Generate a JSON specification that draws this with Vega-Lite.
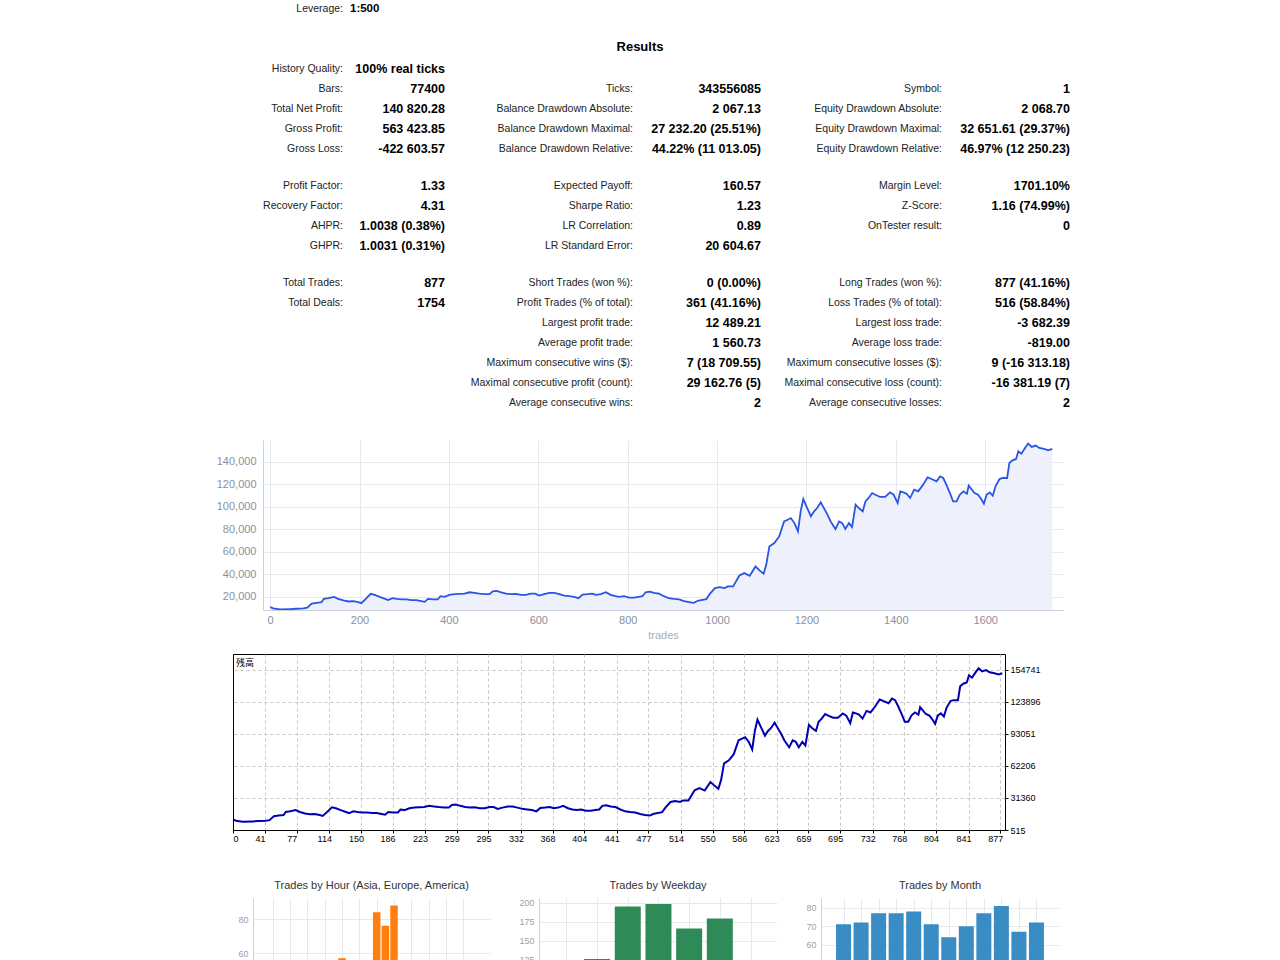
{
  "$schema": "https://vega.github.io/schema/vega-lite/v6.json",
  "padding": 0,
  "background": "#ffffff",
  "spacing": 0,
  "datasets": {
    "stats": [
      {"kind": "lev", "col": 1, "row": 0, "label": "Leverage:", "value": "1:500"},
      {"kind": "title", "col": 2, "row": 1.9, "label": "Results", "value": ""},
      {"kind": "kv", "col": 1, "row": 3, "label": "History Quality:", "value": "100% real ticks"},
      {"kind": "kv", "col": 1, "row": 4, "label": "Bars:", "value": "77400"},
      {"kind": "kv", "col": 1, "row": 5, "label": "Total Net Profit:", "value": "140 820.28"},
      {"kind": "kv", "col": 1, "row": 6, "label": "Gross Profit:", "value": "563 423.85"},
      {"kind": "kv", "col": 1, "row": 7, "label": "Gross Loss:", "value": "-422 603.57"},
      {"kind": "kv", "col": 1, "row": 8.85, "label": "Profit Factor:", "value": "1.33"},
      {"kind": "kv", "col": 1, "row": 9.85, "label": "Recovery Factor:", "value": "4.31"},
      {"kind": "kv", "col": 1, "row": 10.85, "label": "AHPR:", "value": "1.0038 (0.38%)"},
      {"kind": "kv", "col": 1, "row": 11.85, "label": "GHPR:", "value": "1.0031 (0.31%)"},
      {"kind": "kv", "col": 1, "row": 13.7, "label": "Total Trades:", "value": "877"},
      {"kind": "kv", "col": 1, "row": 14.7, "label": "Total Deals:", "value": "1754"},
      {"kind": "kv", "col": 2, "row": 4, "label": "Ticks:", "value": "343556085"},
      {"kind": "kv", "col": 2, "row": 5, "label": "Balance Drawdown Absolute:", "value": "2 067.13"},
      {"kind": "kv", "col": 2, "row": 6, "label": "Balance Drawdown Maximal:", "value": "27 232.20 (25.51%)"},
      {"kind": "kv", "col": 2, "row": 7, "label": "Balance Drawdown Relative:", "value": "44.22% (11 013.05)"},
      {"kind": "kv", "col": 2, "row": 8.85, "label": "Expected Payoff:", "value": "160.57"},
      {"kind": "kv", "col": 2, "row": 9.85, "label": "Sharpe Ratio:", "value": "1.23"},
      {"kind": "kv", "col": 2, "row": 10.85, "label": "LR Correlation:", "value": "0.89"},
      {"kind": "kv", "col": 2, "row": 11.85, "label": "LR Standard Error:", "value": "20 604.67"},
      {"kind": "kv", "col": 2, "row": 13.7, "label": "Short Trades (won %):", "value": "0 (0.00%)"},
      {"kind": "kv", "col": 2, "row": 14.7, "label": "Profit Trades (% of total):", "value": "361 (41.16%)"},
      {"kind": "kv", "col": 2, "row": 15.7, "label": "Largest profit trade:", "value": "12 489.21"},
      {"kind": "kv", "col": 2, "row": 16.7, "label": "Average profit trade:", "value": "1 560.73"},
      {"kind": "kv", "col": 2, "row": 17.7, "label": "Maximum consecutive wins ($):", "value": "7 (18 709.55)"},
      {"kind": "kv", "col": 2, "row": 18.7, "label": "Maximal consecutive profit (count):", "value": "29 162.76 (5)"},
      {"kind": "kv", "col": 2, "row": 19.7, "label": "Average consecutive wins:", "value": "2"},
      {"kind": "kv", "col": 3, "row": 4, "label": "Symbol:", "value": "1"},
      {"kind": "kv", "col": 3, "row": 5, "label": "Equity Drawdown Absolute:", "value": "2 068.70"},
      {"kind": "kv", "col": 3, "row": 6, "label": "Equity Drawdown Maximal:", "value": "32 651.61 (29.37%)"},
      {"kind": "kv", "col": 3, "row": 7, "label": "Equity Drawdown Relative:", "value": "46.97% (12 250.23)"},
      {"kind": "kv", "col": 3, "row": 8.85, "label": "Margin Level:", "value": "1701.10%"},
      {"kind": "kv", "col": 3, "row": 9.85, "label": "Z-Score:", "value": "1.16 (74.99%)"},
      {"kind": "kv", "col": 3, "row": 10.85, "label": "OnTester result:", "value": "0"},
      {"kind": "kv", "col": 3, "row": 13.7, "label": "Long Trades (won %):", "value": "877 (41.16%)"},
      {"kind": "kv", "col": 3, "row": 14.7, "label": "Loss Trades (% of total):", "value": "516 (58.84%)"},
      {"kind": "kv", "col": 3, "row": 15.7, "label": "Largest loss trade:", "value": "-3 682.39"},
      {"kind": "kv", "col": 3, "row": 16.7, "label": "Average loss trade:", "value": "-819.00"},
      {"kind": "kv", "col": 3, "row": 17.7, "label": "Maximum consecutive losses ($):", "value": "9 (-16 313.18)"},
      {"kind": "kv", "col": 3, "row": 18.7, "label": "Maximal consecutive loss (count):", "value": "-16 381.19 (7)"},
      {"kind": "kv", "col": 3, "row": 19.7, "label": "Average consecutive losses:", "value": "2"}
    ],
    "balance": [
      {"deal": 0, "balance": 10600}, {"deal": 7, "balance": 9400}, {"deal": 22, "balance": 8500}, {"deal": 45, "balance": 8800},
      {"deal": 59, "balance": 9100}, {"deal": 74, "balance": 9400}, {"deal": 83, "balance": 10000}, {"deal": 93, "balance": 13800},
      {"deal": 104, "balance": 14400}, {"deal": 115, "balance": 15000}, {"deal": 120, "balance": 17900}, {"deal": 130, "balance": 18500},
      {"deal": 143, "balance": 19700}, {"deal": 152, "balance": 17900}, {"deal": 164, "balance": 16500}, {"deal": 175, "balance": 15600},
      {"deal": 186, "balance": 15900}, {"deal": 197, "balance": 15000}, {"deal": 204, "balance": 14100}, {"deal": 214, "balance": 17900},
      {"deal": 225, "balance": 22400}, {"deal": 234, "balance": 21500}, {"deal": 245, "balance": 19700}, {"deal": 257, "balance": 17900},
      {"deal": 264, "balance": 16800}, {"deal": 274, "balance": 18500}, {"deal": 283, "balance": 17900}, {"deal": 294, "balance": 17400},
      {"deal": 305, "balance": 17400}, {"deal": 316, "balance": 16800}, {"deal": 327, "balance": 16800}, {"deal": 338, "balance": 15900},
      {"deal": 346, "balance": 15300}, {"deal": 353, "balance": 17900}, {"deal": 364, "balance": 17400}, {"deal": 375, "balance": 17400},
      {"deal": 381, "balance": 20300}, {"deal": 390, "balance": 19700}, {"deal": 401, "balance": 21500}, {"deal": 413, "balance": 22100},
      {"deal": 424, "balance": 22400}, {"deal": 435, "balance": 22600}, {"deal": 446, "balance": 23800}, {"deal": 457, "balance": 23200},
      {"deal": 468, "balance": 22600}, {"deal": 480, "balance": 22100}, {"deal": 491, "balance": 22100}, {"deal": 498, "balance": 24700},
      {"deal": 507, "balance": 25000}, {"deal": 517, "balance": 23800}, {"deal": 528, "balance": 22600}, {"deal": 539, "balance": 22100},
      {"deal": 550, "balance": 22400}, {"deal": 561, "balance": 21500}, {"deal": 572, "balance": 21500}, {"deal": 584, "balance": 22600},
      {"deal": 593, "balance": 22600}, {"deal": 602, "balance": 20900}, {"deal": 613, "balance": 22100}, {"deal": 625, "balance": 23200},
      {"deal": 636, "balance": 23200}, {"deal": 647, "balance": 22100}, {"deal": 658, "balance": 20900}, {"deal": 669, "balance": 20300},
      {"deal": 680, "balance": 19700}, {"deal": 690, "balance": 18500}, {"deal": 699, "balance": 21800}, {"deal": 710, "balance": 22100},
      {"deal": 721, "balance": 22600}, {"deal": 729, "balance": 21500}, {"deal": 740, "balance": 22100}, {"deal": 751, "balance": 23800},
      {"deal": 762, "balance": 21500}, {"deal": 772, "balance": 20300}, {"deal": 781, "balance": 19700}, {"deal": 792, "balance": 20300},
      {"deal": 803, "balance": 19100}, {"deal": 814, "balance": 19100}, {"deal": 824, "balance": 19700}, {"deal": 833, "balance": 20300},
      {"deal": 840, "balance": 23800}, {"deal": 849, "balance": 24400}, {"deal": 859, "balance": 23200}, {"deal": 870, "balance": 22600},
      {"deal": 881, "balance": 20300}, {"deal": 892, "balance": 18500}, {"deal": 903, "balance": 17900}, {"deal": 915, "balance": 17400},
      {"deal": 926, "balance": 15900}, {"deal": 937, "balance": 15000}, {"deal": 948, "balance": 14400}, {"deal": 957, "balance": 16200},
      {"deal": 961, "balance": 16500}, {"deal": 976, "balance": 17700}, {"deal": 984, "balance": 22400}, {"deal": 995, "balance": 27500},
      {"deal": 1006, "balance": 28400}, {"deal": 1017, "balance": 27500}, {"deal": 1024, "balance": 29000}, {"deal": 1036, "balance": 29000},
      {"deal": 1041, "balance": 32600}, {"deal": 1050, "balance": 38800}, {"deal": 1061, "balance": 40900}, {"deal": 1073, "balance": 38500},
      {"deal": 1086, "balance": 46800}, {"deal": 1095, "balance": 43300}, {"deal": 1104, "balance": 40300}, {"deal": 1110, "balance": 48300},
      {"deal": 1117, "balance": 64700}, {"deal": 1128, "balance": 67700}, {"deal": 1139, "balance": 73600}, {"deal": 1150, "balance": 87000},
      {"deal": 1158, "balance": 88500}, {"deal": 1165, "balance": 90000}, {"deal": 1173, "balance": 85500}, {"deal": 1181, "balance": 78100},
      {"deal": 1187, "balance": 96000}, {"deal": 1193, "balance": 107000}, {"deal": 1200, "balance": 100400}, {"deal": 1210, "balance": 91500},
      {"deal": 1217, "balance": 96000}, {"deal": 1224, "balance": 98900}, {"deal": 1232, "balance": 104000}, {"deal": 1239, "balance": 98900},
      {"deal": 1247, "balance": 93000}, {"deal": 1254, "balance": 87000}, {"deal": 1265, "balance": 80200}, {"deal": 1273, "balance": 87000},
      {"deal": 1280, "balance": 85500}, {"deal": 1287, "balance": 80200}, {"deal": 1295, "balance": 85500}, {"deal": 1302, "balance": 82000},
      {"deal": 1310, "balance": 101900}, {"deal": 1317, "balance": 98900}, {"deal": 1326, "balance": 96000}, {"deal": 1332, "balance": 104900},
      {"deal": 1339, "balance": 107900}, {"deal": 1347, "balance": 112300}, {"deal": 1354, "balance": 110800}, {"deal": 1365, "balance": 108800},
      {"deal": 1376, "balance": 108800}, {"deal": 1387, "balance": 112900}, {"deal": 1395, "balance": 110800}, {"deal": 1404, "balance": 103400},
      {"deal": 1410, "balance": 113800}, {"deal": 1417, "balance": 112900}, {"deal": 1424, "balance": 111700}, {"deal": 1432, "balance": 107900},
      {"deal": 1441, "balance": 115300}, {"deal": 1450, "balance": 113800}, {"deal": 1461, "balance": 119800}, {"deal": 1471, "balance": 126300},
      {"deal": 1480, "balance": 124800}, {"deal": 1491, "balance": 122700}, {"deal": 1499, "balance": 127200}, {"deal": 1506, "balance": 125700},
      {"deal": 1513, "balance": 119800}, {"deal": 1521, "balance": 112300}, {"deal": 1528, "balance": 104900}, {"deal": 1536, "balance": 104900},
      {"deal": 1543, "balance": 110800}, {"deal": 1551, "balance": 113800}, {"deal": 1559, "balance": 111700}, {"deal": 1563, "balance": 118900},
      {"deal": 1569, "balance": 115900}, {"deal": 1576, "balance": 112300}, {"deal": 1584, "balance": 110800}, {"deal": 1591, "balance": 107000},
      {"deal": 1597, "balance": 102800}, {"deal": 1603, "balance": 110800}, {"deal": 1610, "balance": 112900}, {"deal": 1617, "balance": 109900},
      {"deal": 1623, "balance": 118300}, {"deal": 1632, "balance": 124800}, {"deal": 1639, "balance": 125700}, {"deal": 1649, "balance": 125700},
      {"deal": 1654, "balance": 139100}, {"deal": 1661, "balance": 141500}, {"deal": 1669, "balance": 142700}, {"deal": 1674, "balance": 149500},
      {"deal": 1681, "balance": 147400}, {"deal": 1689, "balance": 152500}, {"deal": 1696, "balance": 156400}, {"deal": 1704, "balance": 153400},
      {"deal": 1713, "balance": 154600}, {"deal": 1721, "balance": 152500}, {"deal": 1732, "balance": 151600}, {"deal": 1741, "balance": 150400},
      {"deal": 1750, "balance": 151600}
    ],
    "hours": [
      {"hour": 0, "trades": 7}, {"hour": 1, "trades": 8}, {"hour": 2, "trades": 10}, {"hour": 3, "trades": 12},
      {"hour": 4, "trades": 15}, {"hour": 5, "trades": 20}, {"hour": 6, "trades": 30}, {"hour": 7, "trades": 40},
      {"hour": 8, "trades": 57}, {"hour": 9, "trades": 50}, {"hour": 10, "trades": 48}, {"hour": 11, "trades": 52},
      {"hour": 12, "trades": 84}, {"hour": 13, "trades": 76}, {"hour": 14, "trades": 88}, {"hour": 15, "trades": 52},
      {"hour": 16, "trades": 50}, {"hour": 17, "trades": 45}, {"hour": 18, "trades": 40}, {"hour": 19, "trades": 35},
      {"hour": 20, "trades": 33}, {"hour": 21, "trades": 25}
    ],
    "weekdays": [
      {"day": 1, "trades": 126}, {"day": 2, "trades": 195}, {"day": 3, "trades": 198}, {"day": 4, "trades": 166}, {"day": 5, "trades": 179}
    ],
    "months": [
      {"month": 1, "trades": 71}, {"month": 2, "trades": 72}, {"month": 3, "trades": 77}, {"month": 4, "trades": 77},
      {"month": 5, "trades": 78}, {"month": 6, "trades": 71}, {"month": 7, "trades": 64}, {"month": 8, "trades": 70},
      {"month": 9, "trades": 77}, {"month": 10, "trades": 81}, {"month": 11, "trades": 67}, {"month": 12, "trades": 72}
    ]
  },
  "vconcat": [
    {
      "width": 1280,
      "height": 440,
      "data": {"name": "stats"},
      "layer": [
        {
          "transform": [{"filter": "datum.kind != 'title'"}],
          "mark": {"type": "text", "align": "right", "baseline": "middle", "font": "Liberation Sans", "fontSize": 10.5, "color": "#222222"},
          "encoding": {
            "x": {"field": "col", "type": "quantitative", "scale": {"domain": [1, 2, 3], "range": [343, 633, 942], "nice": false, "zero": false}, "axis": null},
            "y": {"field": "row", "type": "quantitative", "scale": {"domain": [-0.45, 21.55], "reverse": true, "nice": false, "zero": false}, "axis": null},
            "text": {"field": "label"}
          }
        },
        {
          "transform": [{"filter": "datum.kind == 'kv'"}],
          "mark": {"type": "text", "align": "right", "baseline": "middle", "font": "Liberation Sans", "fontSize": 12.5, "fontWeight": "bold", "color": "#000000"},
          "encoding": {
            "x": {"field": "col", "type": "quantitative", "scale": {"domain": [1, 2, 3], "range": [445, 761, 1070], "nice": false, "zero": false}, "axis": null},
            "y": {"field": "row", "type": "quantitative", "scale": {"domain": [-0.45, 21.55], "reverse": true, "nice": false, "zero": false}, "axis": null},
            "text": {"field": "value"}
          }
        },
        {
          "transform": [{"filter": "datum.kind == 'lev'"}],
          "mark": {"type": "text", "align": "left", "baseline": "middle", "dx": 7, "font": "Liberation Sans", "fontSize": 11.5, "fontWeight": "bold", "color": "#000000"},
          "encoding": {
            "x": {"field": "col", "type": "quantitative", "scale": {"domain": [1, 2, 3], "range": [343, 633, 942], "nice": false, "zero": false}, "axis": null},
            "y": {"field": "row", "type": "quantitative", "scale": {"domain": [-0.45, 21.55], "reverse": true, "nice": false, "zero": false}, "axis": null},
            "text": {"field": "value"}
          }
        },
        {
          "transform": [{"filter": "datum.kind == 'title'"}],
          "mark": {"type": "text", "align": "center", "baseline": "middle", "dx": 7, "font": "Liberation Sans", "fontSize": 13, "fontWeight": "bold", "color": "#000000"},
          "encoding": {
            "x": {"field": "col", "type": "quantitative", "scale": {"domain": [1, 2, 3], "range": [343, 633, 942], "nice": false, "zero": false}, "axis": null},
            "y": {"field": "row", "type": "quantitative", "scale": {"domain": [-0.45, 21.55], "reverse": true, "nice": false, "zero": false}, "axis": null},
            "text": {"field": "label"}
          }
        }
      ],
      "resolve": {"scale": {"x": "independent"}}
    },
    {
      "spacing": 0,
      "hconcat": [
        {"width": 216, "height": 1, "data": {"values": []}, "mark": "point"},
        {
          "width": 800,
          "height": 170,
          "data": {"name": "balance"},
          "encoding": {
            "x": {"field": "deal", "type": "quantitative", "scale": {"domain": [-16, 1774], "nice": false, "zero": false},
              "axis": {"values": [0, 200, 400, 600, 800, 1000, 1200, 1400, 1600], "format": "d", "title": "trades", "grid": true, "gridColor": "#e7e9f0", "ticks": false, "domainColor": "#cdd1dc", "labelColor": "#8a90a0", "labelFont": "Liberation Sans", "labelFontSize": 11, "labelPadding": 4, "labelFlush": false, "titleColor": "#a8adba", "titleFont": "Liberation Sans", "titleFontSize": 11, "titleFontWeight": "normal", "titlePadding": 4}},
            "y": {"field": "balance", "type": "quantitative", "scale": {"domain": [8000, 159600], "nice": false, "zero": false},
              "axis": {"values": [20000, 40000, 60000, 80000, 100000, 120000, 140000], "format": ",d", "title": null, "grid": true, "gridColor": "#e7e9f0", "ticks": false, "domainColor": "#cdd1dc", "labelColor": "#8a90a0", "labelFont": "Liberation Sans", "labelFontSize": 11, "labelPadding": 7}}
          },
          "layer": [
            {"mark": {"type": "area", "color": "#eef1fb", "opacity": 1, "clip": true}},
            {"mark": {"type": "line", "color": "#2a55e2", "strokeWidth": 1.8, "clip": true}}
          ]
        }
      ]
    },
    {"width": 1, "height": 13, "data": {"values": []}, "mark": "point"},
    {
      "spacing": 0,
      "hconcat": [
        {"width": 228, "height": 1, "data": {"values": []}, "mark": "point"},
        {
          "width": 772,
          "height": 176,
          "view": {"stroke": "#000000", "strokeWidth": 1},
          "title": {"text": "残高", "anchor": "start", "frame": "group", "offset": -14, "dx": 3, "font": "Noto Sans CJK JP", "fontSize": 9, "fontWeight": "normal", "color": "#000000"},
          "data": {"name": "balance"},
          "mark": {"type": "line", "color": "#0000b0", "strokeWidth": 2},
          "encoding": {
            "x": {"field": "deal", "type": "quantitative", "scale": {"domain": [0, 1756], "nice": false, "zero": false},
              "axis": {"values": [0, 73, 145, 219, 291, 363, 437, 509, 581, 655, 727, 799, 873, 945, 1019, 1091, 1163, 1237, 1309, 1381, 1455, 1527, 1599, 1673, 1745],
                "labelExpr": "datum.value < 1 ? '0' : format((datum.value + 9) / 2, 'd')",
                "labelOffset": {"condition": {"test": "datum.value < 1", "value": 0}, "value": -5},
                "gridOpacity": {"condition": {"test": "datum.value < 1", "value": 0}, "value": 1},
                "title": null, "grid": true, "gridColor": "#c4c4c4", "gridDash": [3, 3], "domain": false, "ticks": true, "tickSize": 3, "tickColor": "#000000",
                "labelColor": "#000000", "labelFont": "Liberation Sans", "labelFontSize": 9, "labelPadding": 1}},
            "y": {"field": "balance", "type": "quantitative", "scale": {"domain": [515, 170160], "nice": false, "zero": false},
              "axis": {"orient": "right", "values": [515, 31360, 62206, 93051, 123896, 154741], "format": "d", "title": null, "grid": true, "gridColor": "#c4c4c4", "gridDash": [3, 3],
                "gridOpacity": {"condition": {"test": "datum.value < 1000", "value": 0}, "value": 1},
                "domain": false, "ticks": true, "tickSize": 3, "tickColor": "#000000",
                "labelColor": "#000000", "labelFont": "Liberation Sans", "labelFontSize": 9, "labelPadding": 2}}
          }
        }
      ]
    },
    {"width": 1, "height": 36, "data": {"values": []}, "mark": "point"},
    {
      "spacing": 28,
      "hconcat": [
        {"width": 209, "height": 1, "data": {"values": []}, "mark": "point"},
        {
          "width": 237,
          "height": 157,
          "title": {"text": "Trades by Hour (Asia, Europe, America)", "font": "Liberation Sans", "fontSize": 11, "fontWeight": "normal", "color": "#333333", "offset": 7},
          "data": {"name": "hours"},
          "mark": {"type": "bar", "color": "#ff7f0e", "width": 7.5},
          "encoding": {
            "x": {"field": "hour", "type": "quantitative", "scale": {"domain": [-1.7, 24.5], "nice": false, "zero": false},
              "axis": {"values": [0, 2, 4, 6, 8, 10, 12, 14, 16, 18, 20, 22], "title": null, "grid": true, "gridColor": "#e8e9ef", "labels": false, "ticks": false, "domain": false}},
            "y": {"field": "trades", "type": "quantitative", "scale": {"domain": [0, 92.4], "nice": false},
              "axis": {"values": [0, 20, 40, 60, 80], "title": null, "grid": true, "gridColor": "#e8e9ef", "ticks": false, "domainColor": "#cdd1dc", "labelColor": "#9a9fac", "labelFont": "Liberation Sans", "labelFontSize": 9, "labelPadding": 5}}
          }
        },
        {
          "width": 238,
          "height": 157,
          "title": {"text": "Trades by Weekday", "font": "Liberation Sans", "fontSize": 11, "fontWeight": "normal", "color": "#333333", "offset": 7},
          "data": {"name": "weekdays"},
          "mark": {"type": "bar", "color": "#2e8b57", "width": 26},
          "encoding": {
            "x": {"field": "day", "type": "quantitative", "scale": {"domain": [-0.73, 6.7], "nice": false, "zero": false},
              "axis": {"values": [0, 1, 2, 3, 4, 5, 6], "title": null, "grid": true, "gridColor": "#e8e9ef", "labels": false, "ticks": false, "domain": false}},
            "y": {"field": "trades", "type": "quantitative", "scale": {"domain": [0, 206], "nice": false},
              "axis": {"values": [0, 25, 50, 75, 100, 125, 150, 175, 200], "title": null, "grid": true, "gridColor": "#e8e9ef", "ticks": false, "domainColor": "#cdd1dc", "labelColor": "#9a9fac", "labelFont": "Liberation Sans", "labelFontSize": 9, "labelPadding": 5}}
          }
        },
        {
          "width": 238,
          "height": 157,
          "title": {"text": "Trades by Month", "font": "Liberation Sans", "fontSize": 11, "fontWeight": "normal", "color": "#333333", "offset": 7},
          "data": {"name": "months"},
          "mark": {"type": "bar", "color": "#3a8cc4", "width": 15},
          "encoding": {
            "x": {"field": "month", "type": "quantitative", "scale": {"domain": [0, 13], "nice": false, "zero": false},
              "axis": {"values": [1, 2, 3, 4, 5, 6, 7, 8, 9, 10, 11, 12], "title": null, "grid": true, "gridColor": "#e8e9ef", "labels": false, "ticks": false, "domain": false}},
            "y": {"field": "trades", "type": "quantitative", "scale": {"domain": [0, 85.3], "nice": false},
              "axis": {"values": [0, 10, 20, 30, 40, 50, 60, 70, 80], "title": null, "grid": true, "gridColor": "#e8e9ef", "ticks": false, "domainColor": "#cdd1dc", "labelColor": "#9a9fac", "labelFont": "Liberation Sans", "labelFontSize": 9, "labelPadding": 5}}
          }
        }
      ]
    }
  ],
  "config": {
    "view": {"stroke": null},
    "font": "Liberation Sans",
    "concat": {"spacing": 0}
  }
}
